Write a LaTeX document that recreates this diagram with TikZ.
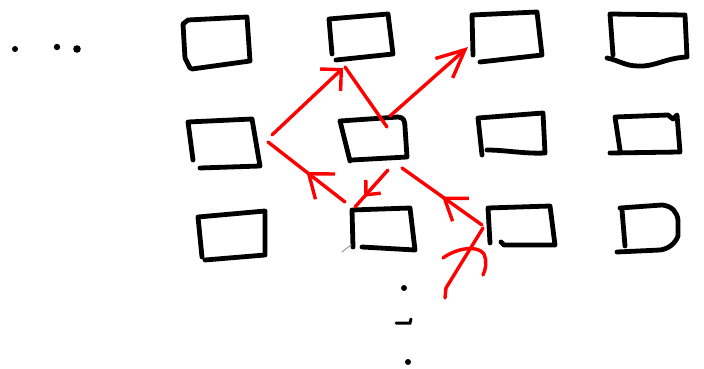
\documentclass[tikz,border=0pt]{standalone}
\usetikzlibrary{arrows.meta,decorations.markings}
\tikzset{
  ink/.style={line width=4.8pt, line cap=round, line join=round, draw=black},
  redink/.style={line width=3.4pt, line cap=round, line join=round, draw=red},
  boxn/.style={draw=none, inner sep=0pt, rectangle},
  midarr/.style 2 args={postaction={decorate}, decoration={markings,
      mark=at position #1 with {\arrow[line width=3.4pt, red, line cap=round, line join=round]{#2}}}},
  inkdot/.style={fill=black, draw=none},
}
\begin{document}
\begin{tikzpicture}[x=1pt, y=-1pt]
\useasboundingbox (0,0) rectangle (704,369);

% named (invisible) box nodes
\node[boxn, minimum width=67pt, minimum height=50pt] (a1) at (216,43) {};
\node[boxn, minimum width=64pt, minimum height=45pt] (a2) at (361,37) {};
\node[boxn, minimum width=70pt, minimum height=48pt] (a3) at (507,37) {};
\node[boxn, minimum width=78pt, minimum height=52pt] (a4) at (648,40) {};
\node[boxn, minimum width=72pt, minimum height=48pt] (b1) at (224,143) {};
\node[boxn, minimum width=67pt, minimum height=43pt] (b2) at (373,139) {};
\node[boxn, minimum width=67pt, minimum height=41pt] (b3) at (511,135) {};
\node[boxn, minimum width=70pt, minimum height=38pt] (b4) at (645,134) {};
\node[boxn, minimum width=68pt, minimum height=48pt] (c1) at (232,236) {};
\node[boxn, minimum width=63pt, minimum height=42pt] (c2) at (383,229) {};
\node[boxn, minimum width=67pt, minimum height=39pt] (c3) at (521,226) {};
\node[boxn, minimum width=61pt, minimum height=47pt] (c4) at (648,228) {};

% box outlines (hand drawn)
\draw[ink] (190,68) -- (185,58) -- (183,24) -- (188,20) -- (247,17) -- (250,61) -- (192,69);
\draw[ink] (332,54) -- (329,19) -- (388,14) -- (393,54) -- (336,60);
\draw[ink] (473,55) -- (472,15) -- (537,12) -- (542,55) -- (480,62);
\draw[ink] (613,55) -- (610,14) -- (685,15) -- (687,57) .. controls (665,58) and (655,67) .. (638,66) .. controls (625,66) and (618,60) .. (607,58);
\draw[ink] (193,160) -- (188,122) -- (252,119) -- (260,166) -- (200,168);
\draw[ink] (350,161) -- (340,121) -- (398,117) .. controls (404,117) and (405,122) .. (405,127) -- (407,157) -- (352,160);
\draw[ink] (482,155) -- (478,118) -- (543,113) -- (545,153) .. controls (525,154) and (505,150) .. (487,150);
\draw[ink] (620,150) -- (615,117) -- (668,115) -- (673,119) -- (677,115) -- (680,152) -- (610,153);
\draw[ink] (202,257) -- (198,217) -- (265,211) -- (265,255) -- (205,260);
\draw[ink] (353,247) -- (352,210) -- (410,208) -- (415,250) -- (362,247);
\draw[line width=1.2pt, gray!70, line cap=round] (342,252) -- (351,245);
\draw[ink] (490,243) -- (488,208) -- (550,206) -- (555,245) -- (504,245) -- (501,242);
\draw[ink] (622,210) -- (625,246);
\draw[ink] (620,208) -- (662,205) .. controls (672,206) and (677,212) .. (678,220) -- (678,236) .. controls (675,244) and (668,249) .. (660,250) -- (617,252);

% red connector end points
\coordinate (r1s) at (272,135);
\coordinate (r1e) at (343,68);
\coordinate (r2a) at (345,67);
\coordinate (r2b) at (387,127);
\coordinate (r2s) at (390,116);
\coordinate (r2e) at (468,47);
\coordinate (r3s) at (345,202);
\coordinate (r3e) at (268,142);
\coordinate (r4s) at (388,170);
\coordinate (r4e) at (355,207);
\coordinate (r5s) at (482,225);
\coordinate (r5e) at (402,168);
\coordinate (r6s) at (445,298);
\coordinate (r6m) at (446,288);
\coordinate (r6e) at (483,228);
\coordinate (h6a) at (443,258);
\coordinate (h6b) at (484,254);
\coordinate (h6c) at (483,275);

% red connectors
\draw[redink, -{Straight Barb[length=15pt, width=30pt]}] (r1s) -- (r1e);
\draw[redink] (r2a) -- (r2b);
\draw[redink, -{Straight Barb[length=28pt, width=26pt]}] (r2s) -- (r2e);
\draw[redink, midarr={0.5}{Straight Barb[length=21pt, width=32pt]}] (r3s) -- (r3e);
\draw[redink, midarr={0.72}{Straight Barb[length=11pt, width=20pt]}] (r4s) -- (r4e);
\draw[redink, midarr={0.5}{Straight Barb[length=20pt, width=28pt]}] (r5s) -- (r5e);
\draw[redink] (r6s) -- (r6m) -- (r6e);
% hand drawn hook-shaped arrowhead on the last connector
\draw[redink] (h6a) .. controls (455,249) and (477,244) .. (h6b) .. controls (487,261) and (486,269) .. (h6c);

% ellipsis dots
\fill[inkdot] (15,49) circle (3pt);
\fill[inkdot] (57,47) circle (3.2pt);
\fill[inkdot] (77,49) circle (3.8pt);
\fill[inkdot] (404,288) circle (3pt);
\draw[line width=3pt, line cap=round] (396,323) -- (410,323) -- (411,319);
\fill[inkdot] (408,362) circle (3pt);
\end{tikzpicture}
\end{document}
